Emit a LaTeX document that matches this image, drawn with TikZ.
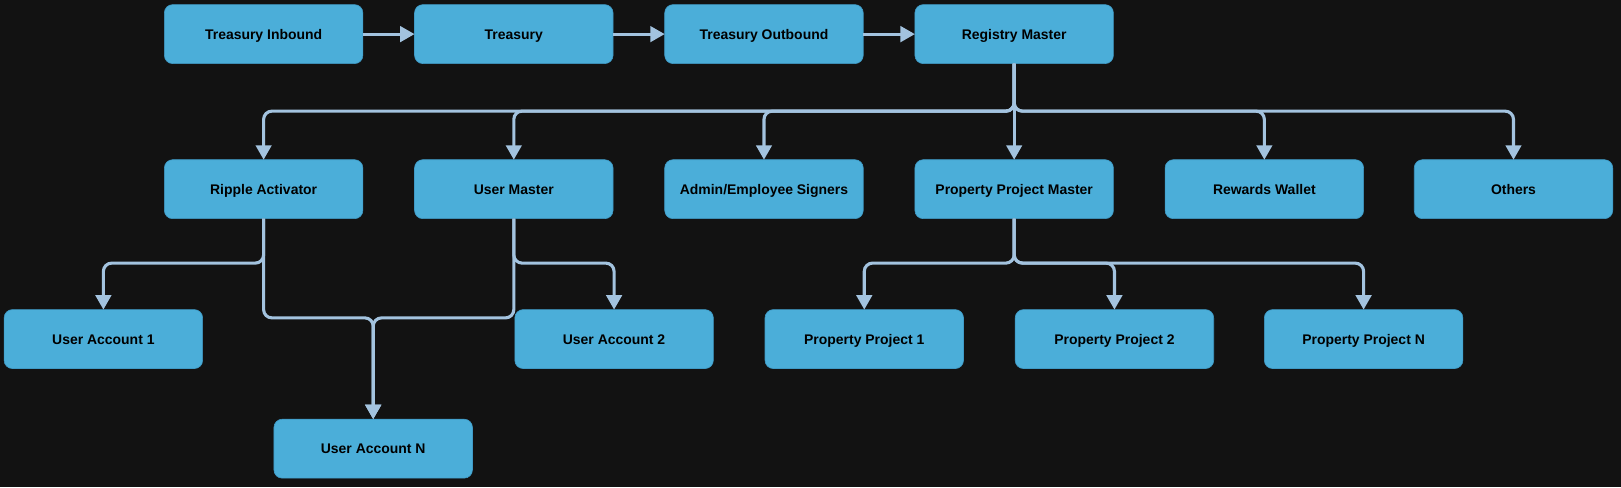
\documentclass[tikz,border=0pt]{standalone}
\usepackage{fontspec}
\setmainfont{Liberation Sans}
\usepackage{tikz}
\usetikzlibrary{positioning, arrows.meta}
\definecolor{bgdark}{HTML}{121212}
\definecolor{boxblue}{HTML}{4BAED9}
\definecolor{boxedge}{HTML}{3F9AC6}
\definecolor{linkblue}{HTML}{A3C3DF}
\tikzset{
  acct/.style={rectangle, rounded corners=8pt, draw=boxedge, line width=0.6pt, fill=boxblue,
    minimum width=192pt, minimum height=57pt, outer sep=0pt, align=center, text=black,
    text height=9.7pt, text depth=0pt,
    font=\fontsize{13.5pt}{16pt}\selectfont\bfseries},
  link/.style={-{Triangle[width=15pt,length=14pt]}, draw=linkblue, line width=3pt, rounded corners=8pt},
}

\begin{document}
\begin{tikzpicture}[node distance=93pt and 50pt, x=1pt, y=1pt]
  \fill[bgdark] (0,0) rectangle (1568,-471.1);
  \useasboundingbox (0,0) rectangle (1568,-471.1);

  % Treasury chain
  \node[acct] (tin) at (255,-33) {Treasury Inbound};
  \node[acct, right=of tin] (treasury) {Treasury};
  \node[acct, right=of treasury] (tout) {Treasury Outbound};
  \node[acct, right=of tout] (registry) {Registry Master};

  % Second level
  \node[acct, below=of tin] (ripple) {Ripple Activator};
  \node[acct, right=of ripple] (usermaster) {User Master};
  \node[acct, right=of usermaster] (signers) {Admin/Employee Signers};
  \node[acct, right=of signers] (ppmaster) {Property Project Master};
  \node[acct, right=of ppmaster] (rewards) {Rewards Wallet};
  \node[acct, right=49pt of rewards] (others) {Others};

  % Accounts and projects
  \node[acct, below=88pt of ripple, xshift=-155pt] (ua1) {User Account 1};
  \node[acct, below=88pt of usermaster, xshift=97pt] (ua2) {User Account 2};
  \node[acct, below=49pt of ua1, xshift=261pt] (uan) {User Account N};
  \node[acct, below=88pt of ppmaster, xshift=-145pt] (pp1) {Property Project 1};
  \node[acct, right=of pp1] (pp2) {Property Project 2};
  \node[acct, right=49pt of pp2] (ppn) {Property Project N};

  % Arrows
  \draw[link] (tin) -- (treasury);
  \draw[link] (treasury) -- (tout);
  \draw[link] (tout) -- (registry);
  \foreach \dst in {ripple, usermaster, signers, ppmaster, rewards, others}
    \draw[link] (registry.south) -- ++(0,-46) -| (\dst.north);
  \draw[link] (ripple.south) -- ++(0,-43) -| (ua1.north);
  \draw[link] (ripple.south) -- ++(0,-96) -| (uan.north);
  \draw[link] (usermaster.south) -- ++(0,-43) -| (ua2.north);
  \draw[link] (usermaster.south) -- ++(0,-96) -| (uan.north);
  \foreach \dst in {pp1, pp2, ppn}
    \draw[link] (ppmaster.south) -- ++(0,-43) -| (\dst.north);

\end{tikzpicture}
\end{document}
